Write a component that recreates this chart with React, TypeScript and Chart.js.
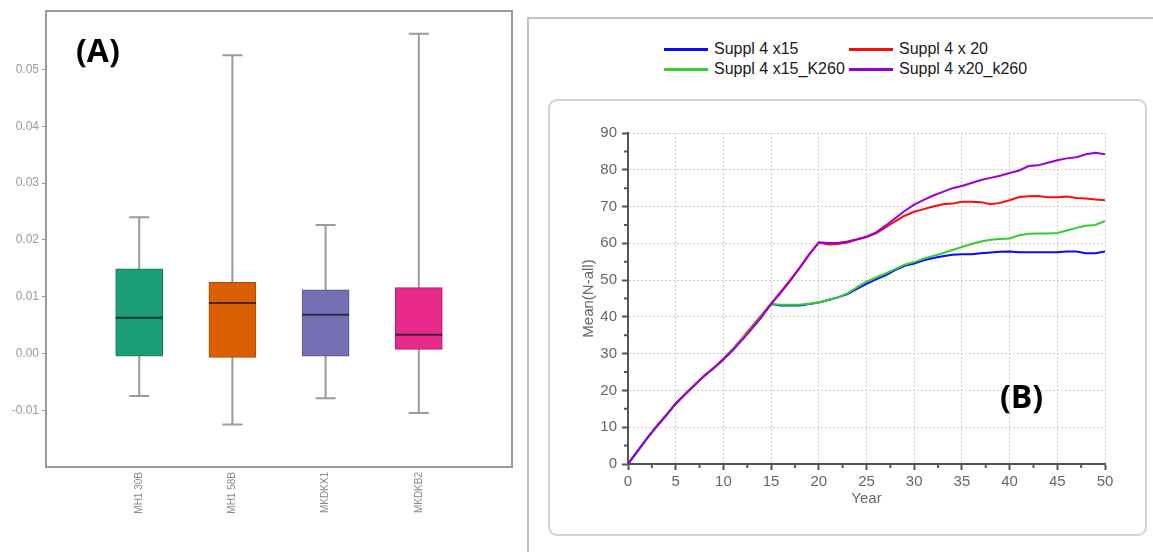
import React, { useEffect, useRef } from "react";
import { Chart, registerables } from "chart.js";
Chart.register(...registerables);

// ---------- Panel (A): box plot data ----------
const boxLabels = ["MH1 30B", "MH1 58B", "MKDKX1", "MKDKB2"];
const boxPositions = [1, 2, 3, 4];
const boxFill = ["#1b9e77", "#d95f02", "#7570b3", "#e7298a"];
const boxEdge = ["#14785a", "#a84a02", "#57538a", "#b31f6a"];
const whiskerLow = [-0.0075, -0.0125, -0.0079, -0.0105];
const quartile1 = [-0.0005, -0.0007, -0.0005, 0.0007];
const medians = [0.0063, 0.0089, 0.0068, 0.0033];
const quartile3 = [0.0149, 0.0125, 0.0112, 0.0116];
const whiskerHigh = [0.024, 0.0525, 0.0226, 0.0563];
const yTicksA = [-0.01, 0, 0.01, 0.02, 0.03, 0.04, 0.05];

// ---------- Panel (B): line chart data ----------
const years = [
  0, 1, 2, 3, 4, 5, 6, 7, 8, 9, 10, 11, 12, 13, 14, 15, 16, 17, 18, 19, 20,
  21, 22, 23, 24, 25, 26, 27, 28, 29, 30, 31, 32, 33, 34, 35, 36, 37, 38, 39,
  40, 41, 42, 43, 44, 45, 46, 47, 48, 49, 50,
];
const seriesNames = ["Suppl 4 x15", "Suppl 4 x 20", "Suppl 4 x15_K260", "Suppl 4 x20_k260"];
const seriesColors = ["#0a0aff", "#ff0a0a", "#33cc33", "#9a00d6"];
const x15 = [
  0, 3.5, 7, 10.2, 13.2, 16.4, 19, 21.5, 24, 26.1, 28.5, 31.1, 34, 37, 40, 43.5,
  43.1, 43.1, 43.1, 43.5, 43.9, 44.6, 45.3, 46.2, 47.6, 49, 50.2, 51.3, 52.7, 53.9,
  54.5, 55.4, 56, 56.5, 56.9, 57, 57, 57.3, 57.5, 57.7, 57.8, 57.6, 57.6, 57.6, 57.6,
  57.6, 57.8, 57.8, 57.3, 57.3, 57.8,
];
const x20 = [
  0, 3.5, 7, 10.3, 13.3, 16.5, 19, 21.5, 24, 26.2, 28.6, 31.3, 34.3, 37.4, 40.5, 43.7,
  46.8, 50, 53.4, 57, 60.2, 59.7, 59.8, 60.2, 61, 61.7, 62.7, 64.3, 66, 67.5,
  68.6, 69.3, 70, 70.6, 70.8, 71.3, 71.3, 71.2, 70.6, 71, 71.7, 72.6, 72.8, 72.9, 72.5,
  72.5, 72.7, 72.3, 72.2, 71.9, 71.7,
];
const x15K260 = [
  0, 3.5, 7, 10.2, 13.3, 16.4, 19, 21.5, 24, 26.1, 28.5, 31.2, 34.1, 37.1, 40.2, 43.5,
  43.3, 43.3, 43.3, 43.6, 43.9, 44.6, 45.3, 46.4, 48, 49.6, 50.7, 51.8, 53, 54.2,
  54.9, 55.8, 56.6, 57.3, 58.2, 59, 59.8, 60.5, 61, 61.2, 61.3, 62.2, 62.6, 62.7, 62.7,
  62.8, 63.5, 64.2, 64.8, 65, 66.1,
];
const x20K260 = [
  0, 3.5, 7, 10.2, 13.2, 16.4, 19, 21.5, 24, 26.1, 28.4, 31, 33.8, 36.8, 40, 43.5,
  46.5, 49.8, 53.3, 57, 60.3, 60.1, 60.1, 60.5, 61.1, 61.8, 63, 64.8, 66.8, 68.8,
  70.5, 71.8, 73, 74, 75, 75.6, 76.4, 77.2, 77.8, 78.4, 79.1, 79.8, 81, 81.2, 81.9,
  82.6, 83.1, 83.4, 84.2, 84.6, 84.2,
];
const seriesValues = [x15, x20, x15K260, x20K260];
const seriesOrder = [3, 2, 1, 0];
const xMinorB = [2.5, 7.5, 12.5, 17.5, 22.5, 27.5, 32.5, 37.5, 42.5, 47.5];
const yMinorB = [5, 15, 25, 35, 45, 55, 65, 75, 85];

const FONT = "'Liberation Sans', Arial, sans-serif";

function BoxPanel() {
  const ref = useRef<HTMLCanvasElement | null>(null);
  useEffect(() => {
    if (!ref.current) return;
    const boxPlugin = {
      id: "boxParts",
      beforeDatasetsDraw(chart: any) {
        const { ctx, scales } = chart;
        const x = scales.x, y = scales.y;
        ctx.save();
        ctx.strokeStyle = "#9a9a9a";
        ctx.lineWidth = 2;
        boxPositions.forEach((p, i) => {
          const px = x.getPixelForValue(p);
          const top = y.getPixelForValue(whiskerHigh[i]);
          const bot = y.getPixelForValue(whiskerLow[i]);
          ctx.beginPath();
          ctx.moveTo(px, top);
          ctx.lineTo(px, bot);
          ctx.moveTo(px - 10, top);
          ctx.lineTo(px + 10, top);
          ctx.moveTo(px - 10, bot);
          ctx.lineTo(px + 10, bot);
          ctx.stroke();
        });
        ctx.restore();
      },
      afterDatasetsDraw(chart: any) {
        const { ctx, scales } = chart;
        const y = scales.y;
        const meta = chart.getDatasetMeta(0);
        ctx.save();
        ctx.lineWidth = 2;
        meta.data.forEach((el: any, i: number) => {
          const py = y.getPixelForValue(medians[i]);
          ctx.strokeStyle = "rgba(20,20,30,0.75)";
          ctx.beginPath();
          ctx.moveTo(el.x - el.width / 2, py);
          ctx.lineTo(el.x + el.width / 2, py);
          ctx.stroke();
        });
        ctx.restore();
      },
      afterDraw(chart: any) {
        const { ctx, chartArea } = chart;
        ctx.save();
        ctx.strokeStyle = "#9a9a9a";
        ctx.lineWidth = 2;
        ctx.strokeRect(chartArea.left, chartArea.top, chartArea.right - chartArea.left, chartArea.bottom - chartArea.top);
        ctx.restore();
      },
    };
    const chart = new Chart(ref.current, {
      type: "bar",
      data: {
        datasets: [
          {
            data: boxPositions.map((p, i) => ({ x: p, y: [quartile1[i], quartile3[i]] })) as any,
            backgroundColor: boxFill,
            borderColor: boxEdge,
            borderWidth: 1,
            borderSkipped: false,
            barThickness: 47,
          },
        ],
      },
      options: {
        responsive: false,
        animation: false,
        layout: { padding: { top: 11, right: 8, left: 0, bottom: 0 } },
        plugins: { legend: { display: false }, tooltip: { enabled: false } },
        scales: {
          x: {
            type: "linear",
            min: 0,
            max: 5,
            offset: false,
            afterFit: (s: any) => { s.height = 85; },
            afterBuildTicks: (s: any) => { s.ticks = boxPositions.map((v) => ({ value: v })); },
            ticks: {
              autoSkip: false,
              minRotation: 90,
              maxRotation: 90,
              padding: 5,
              color: "#8a8a8a",
              font: { family: FONT, size: 10 },
              callback: (v: any) => boxLabels[boxPositions.indexOf(Number(v))] ?? "",
            },
            grid: { display: false, drawTicks: false, offset: false },
            border: { display: false },
          },
          y: {
            type: "linear",
            min: -0.02,
            max: 0.0603,
            afterFit: (s: any) => { s.width = 46; },
            afterBuildTicks: (s: any) => { s.ticks = yTicksA.map((v) => ({ value: v })); },
            ticks: {
              padding: 3,
              color: "#9a9a9a",
              font: { family: FONT, size: 12 },
              callback: (v: any) => Number(v).toFixed(2),
            },
            grid: { drawOnChartArea: false, tickLength: 4, color: "#9a9a9a", tickColor: "#9a9a9a" },
            border: { display: false },
          },
        },
      },
      plugins: [boxPlugin],
    } as any);
    return () => chart.destroy();
  }, []);
  return (
    <canvas
      ref={ref}
      width={520}
      height={552}
      style={{ position: "absolute", left: 0, top: 0, width: 520, height: 552 }}
    />
  );
}

function LinePanel() {
  const ref = useRef<HTMLCanvasElement | null>(null);
  useEffect(() => {
    if (!ref.current) return;
    const minorTicks = {
      id: "minorTicks",
      afterDraw(chart: any) {
        const { ctx, scales } = chart;
        const x = scales.x, y = scales.y;
        ctx.save();
        ctx.strokeStyle = "#555";
        ctx.lineWidth = 2;
        ctx.beginPath();
        xMinorB.forEach((v) => {
          const px = x.getPixelForValue(v);
          ctx.moveTo(px, x.top);
          ctx.lineTo(px, x.top + 4);
        });
        yMinorB.forEach((v) => {
          const py = y.getPixelForValue(v);
          ctx.moveTo(y.right, py);
          ctx.lineTo(y.right - 4, py);
        });
        ctx.stroke();
        ctx.restore();
      },
    };
    const chart = new Chart(ref.current, {
      type: "line",
      data: {
        datasets: seriesNames.map((name, s) => ({
          label: name,
          data: years.map((yr, i) => ({ x: yr, y: seriesValues[s][i] })),
          borderColor: seriesColors[s],
          backgroundColor: seriesColors[s],
          borderWidth: 2,
          pointRadius: 0,
          tension: 0,
          order: seriesOrder[s],
        })),
      },
      options: {
        responsive: false,
        animation: false,
        layout: { padding: { top: 33, right: 41, left: 28, bottom: 23 } },
        plugins: { legend: { display: false }, tooltip: { enabled: false } },
        scales: {
          x: {
            type: "linear",
            min: 0,
            max: 50,
            afterFit: (s: any) => { s.height = 48; },
            ticks: {
              stepSize: 5,
              maxRotation: 0,
              autoSkip: false,
              padding: 3,
              color: "#666",
              font: { family: FONT, size: 15 },
            },
            grid: { color: "#cfcfcf", lineWidth: 1, tickLength: 6, tickColor: "#555", tickWidth: 2 },
            border: { display: true, color: "#555", width: 2, dash: [2, 2] },
            title: { display: true, text: "Year", color: "#666", font: { family: FONT, size: 15 }, padding: { top: 4, bottom: 4 } },
          },
          y: {
            type: "linear",
            min: 0,
            max: 90,
            afterFit: (s: any) => { s.width = 52; },
            ticks: {
              stepSize: 10,
              padding: 5,
              color: "#666",
              font: { family: FONT, size: 15 },
            },
            grid: { color: "#cfcfcf", lineWidth: 1, tickLength: 6, tickColor: "#555", tickWidth: 2 },
            border: { display: true, color: "#555", width: 2, dash: [2, 2] },
            title: { display: true, text: "Mean(N-all)", color: "#666", font: { family: FONT, size: 15 }, padding: { top: 4, bottom: 4 } },
          },
        },
      },
      plugins: [minorTicks],
    } as any);
    return () => chart.destroy();
  }, []);
  return (
    <canvas
      ref={ref}
      width={598}
      height={435}
      style={{ position: "absolute", left: 548, top: 100, width: 598, height: 435 }}
    />
  );
}

function Legend() {
  const cols = [664, 849];
  const rows = [49, 69];
  return (
    <>
      {seriesNames.map((name, i) => {
        const left = cols[i % 2];
        const cy = rows[Math.floor(i / 2)];
        return (
          <div key={name}>
            <div
              style={{
                position: "absolute",
                left,
                top: cy - 1.5,
                width: 44,
                height: 3,
                background: seriesColors[i],
              }}
            />
            <div
              style={{
                position: "absolute",
                left: left + 50,
                top: cy - 10,
                height: 20,
                lineHeight: "20px",
                fontFamily: FONT,
                fontSize: 16,
                color: "#1a1a1a",
                whiteSpace: "nowrap",
              }}
            >
              {name}
            </div>
          </div>
        );
      })}
    </>
  );
}

export default function App() {
  useEffect(() => {
    document.body.style.margin = "0";
  }, []);
  const panelLabel = {
    position: "absolute" as const,
    fontFamily: "'Open Sans', sans-serif",
    fontWeight: 700,
    fontSize: 32,
    lineHeight: 1,
    color: "#000",
    whiteSpace: "nowrap" as const,
  };
  return (
    <div style={{ position: "fixed", left: 0, top: 0, width: 1153, height: 552, background: "#fff", overflow: "hidden" }}>
      <BoxPanel />
      <div style={{ ...panelLabel, left: 76, top: 34 }}>(A)</div>
      <div
        style={{
          position: "absolute",
          left: 527,
          top: 17,
          width: 640,
          height: 560,
          borderTop: "2px solid #bcc3bc",
          borderLeft: "2px solid #bcc3bc",
          boxSizing: "border-box",
        }}
      />
      <Legend />
      <div
        style={{
          position: "absolute",
          left: 548,
          top: 99,
          width: 599,
          height: 437,
          border: "2px solid #d2d2d2",
          borderRadius: 9,
          boxSizing: "border-box",
        }}
      />
      <LinePanel />
      <div style={{ ...panelLabel, left: 1000, top: 380 }}>(B)</div>
    </div>
  );
}
